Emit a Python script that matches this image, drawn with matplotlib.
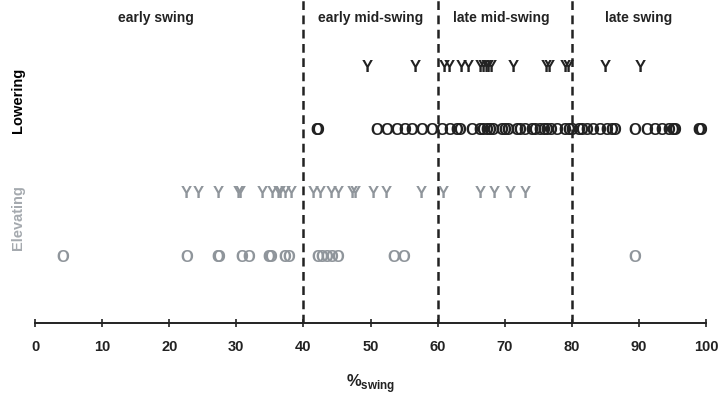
import matplotlib
matplotlib.use("Agg")
import matplotlib.pyplot as plt

plt.rcParams['font.family'] = ['Liberation Sans', 'DejaVu Sans']
plt.rcParams['mathtext.fontset'] = 'custom'
plt.rcParams['mathtext.rm'] = 'Liberation Sans'
plt.rcParams['mathtext.bf'] = 'Liberation Sans:bold'

# event timing (% of swing)
lowering_y = [49.5, 56.6, 61.0, 61.7, 63.5, 64.5, 66.3, 66.8, 67.2, 67.5, 68.0,
              71.3, 76.2, 76.6, 79.1, 79.4, 85.0, 90.2]
lowering_o = [42.0, 42.2, 50.9, 52.4, 53.9, 55.1, 56.1, 57.6, 59.1, 60.6, 61.8,
              62.8, 63.3, 65.1, 66.3, 66.8, 67.3, 67.8, 68.3, 69.5, 70.0, 70.5,
              71.8, 72.3, 73.0, 74.0, 74.5, 75.3, 75.8, 76.3, 76.8, 77.8, 79.0,
              79.5, 80.0, 81.0, 81.5, 82.2, 83.2, 84.2, 85.2, 86.0, 86.4, 89.4,
              91.2, 92.4, 93.4, 94.4, 95.0, 95.4, 99.0, 99.2]
elevating_y = [22.6, 24.3, 27.3, 30.3, 30.6, 33.8, 35.3, 36.2, 36.6, 37.3, 38.2,
               41.5, 42.5, 44.2, 45.2, 47.3, 47.7, 50.4, 52.4, 57.6, 60.9, 66.3,
               68.5, 70.8, 73.0]
elevating_o = [4.2, 22.6, 27.2, 27.4, 30.8, 31.8, 34.9, 35.2, 37.3, 37.8, 42.2,
               42.7, 43.5, 44.2, 45.2, 53.4, 54.9, 89.4]

phase_bounds = [40, 60, 80]
phase_names = ["early swing", "early mid-swing", "late mid-swing", "late swing"]
phase_label_x = [18, 50, 69.5, 90]

dark = '#222222'
grey = '#8f959b'

fig = plt.figure(figsize=(7.19, 3.94), dpi=100)
ax = fig.add_axes([35 / 719, 71 / 394, 671 / 719, 323 / 394])

rows = [(lowering_y, 'Y', 4, dark), (lowering_o, 'O', 3, dark),
        (elevating_y, 'Y', 2, grey), (elevating_o, 'O', 1, grey)]
for vals, sym, yrow, col in rows:
    for v in vals:
        ax.text(v, yrow, sym, ha='center', va='center', fontsize=12,
                fontweight='bold', color=col)

for b in phase_bounds:
    ax.axvline(b, color=dark, lw=1.8, linestyle=(0, (3.5, 2.2)))

for name, px in zip(phase_names, phase_label_x):
    ax.text(px, 4.78, name, ha='center', va='center', fontsize=10,
            fontweight='bold', color=dark)

ax.set_xlim(0, 100)
ax.set_ylim(-0.04, 5.06)
ax.set_xticks(range(0, 101, 10))
ax.set_yticks([])
for s in ['left', 'right', 'top']:
    ax.spines[s].set_visible(False)
ax.spines['bottom'].set_linewidth(1.4)
ax.spines['bottom'].set_color(dark)
ax.tick_params(axis='x', direction='inout', length=6, width=1.2, colors=dark,
               labelsize=10.5, pad=9)
for lab in ax.get_xticklabels():
    lab.set_fontweight('bold')
ax.set_xlabel(r'%$_{\mathbf{swing}}$', fontsize=12, fontweight='bold',
              color=dark, labelpad=13)

fig.text(18 / 719, 1 - 100 / 394, 'Lowering', rotation=90, ha='center',
         va='center', fontsize=10.5, fontweight='bold', color='black')
fig.text(18 / 719, 1 - 218 / 394, 'Elevating', rotation=90, ha='center',
         va='center', fontsize=10.5, fontweight='bold', color='#a5aaaf')

fig.savefig('out.png', dpi=100)
